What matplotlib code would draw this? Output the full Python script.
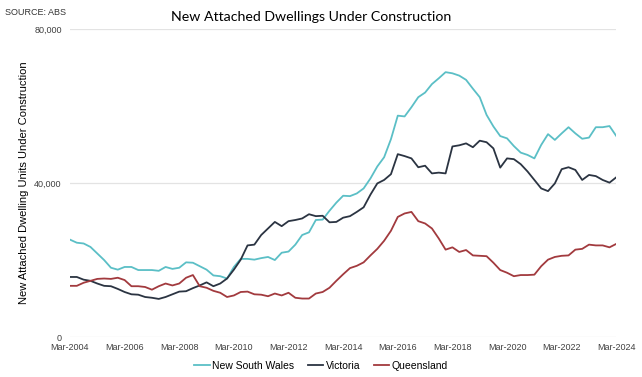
import matplotlib
matplotlib.use("Agg")
import matplotlib.pyplot as plt
import numpy as np

# quarterly, Mar-2004 .. Mar-2024
years = list(range(2004, 2025))
tick_labels = [f"Mar-{y}" for y in years[::2]]

nsw = [25.3, 24.5, 24.3, 23.4, 21.7, 20.0, 18.0, 17.5, 18.2, 18.2, 17.4, 17.4,
       17.4, 17.2, 18.2, 17.7, 18.0, 19.4, 19.3, 18.4, 17.5, 16.0, 15.8, 15.2,
       18.2, 20.3, 20.3, 20.1, 20.5, 20.8, 20.0, 21.9, 22.2, 24.0, 26.5, 27.2,
       30.4, 30.5, 32.8, 34.9, 36.7, 36.6, 37.3, 38.6, 41.2, 44.3, 46.7, 51.4,
       57.5, 57.3, 59.7, 62.3, 63.5, 65.7, 67.2, 68.8, 68.5, 67.9, 66.8, 64.5,
       62.3, 57.7, 54.7, 52.2, 51.6, 49.6, 47.9, 47.3, 46.4, 49.9, 52.7, 51.2,
       52.9, 54.5, 52.9, 51.5, 51.8, 54.5, 54.5, 54.8, 52.2]

vic = [15.6, 15.6, 14.9, 14.6, 13.9, 13.3, 13.2, 12.5, 11.7, 11.1, 11.0, 10.4,
       10.2, 9.9, 10.4, 11.1, 11.8, 11.9, 12.7, 13.4, 14.2, 13.2, 13.9, 15.2,
       17.5, 20.1, 23.8, 24.0, 26.5, 28.2, 29.9, 28.8, 30.1, 30.4, 30.8, 31.9,
       31.4, 31.5, 29.8, 29.9, 31.0, 31.4, 32.5, 33.7, 37.0, 39.9, 40.8, 42.3,
       47.5, 47.0, 46.4, 44.1, 44.5, 42.5, 42.7, 42.5, 49.5, 49.8, 50.3, 49.3,
       51.0, 50.6, 49.0, 44.0, 46.4, 46.2, 44.9, 43.0, 40.8, 38.6, 37.9, 39.9,
       43.6, 44.1, 43.4, 40.8, 42.1, 41.8, 40.8, 40.1, 41.5]

qld = [13.3, 13.3, 14.1, 14.6, 15.1, 15.2, 15.1, 15.4, 14.8, 13.2, 13.2, 13.0,
       12.3, 13.2, 13.9, 13.4, 13.9, 15.4, 16.1, 13.2, 12.8, 12.0, 11.5, 10.4,
       10.8, 11.7, 11.8, 11.1, 11.0, 10.6, 11.3, 10.8, 11.5, 10.2, 10.0, 10.0,
       11.3, 11.7, 12.8, 14.6, 16.3, 17.9, 18.5, 19.4, 21.2, 22.9, 25.0, 27.6,
       31.2, 32.1, 32.5, 30.1, 29.5, 28.2, 25.6, 22.7, 23.3, 22.1, 22.6, 21.2,
       21.1, 21.0, 19.3, 17.4, 16.7, 15.8, 16.1, 16.1, 16.2, 18.4, 20.1, 20.8,
       21.1, 21.2, 22.7, 22.9, 24.0, 23.8, 23.8, 23.3, 24.2]

x = np.arange(len(nsw))
fig = plt.figure(figsize=(6.42, 3.77), dpi=100)
ax = fig.add_axes([0.109, 0.106, 0.851, 0.817])

ax.plot(x, np.array(nsw) * 1000, color="#5bbfc6", lw=1.3, label="New South Wales")
ax.plot(x, np.array(vic) * 1000, color="#2b3442", lw=1.3, label="Victoria")
ax.plot(x, np.array(qld) * 1000, color="#a23a3e", lw=1.3, label="Queensland")

ax.set_xlim(0, len(nsw) - 1)
ax.set_ylim(0, 80000)
ax.set_yticks([0, 40000, 80000])
ax.set_yticklabels(["0", "40,000", "80,000"])
ax.set_xticks(x[::8])
ax.set_xticklabels(tick_labels)
for lab in ax.get_xticklabels() + ax.get_yticklabels():
    lab.set_fontfamily("Liberation Sans")
    lab.set_fontsize(6.5)
    lab.set_color("#404040")
ax.tick_params(axis="y", length=0, pad=6)
ax.tick_params(axis="x", length=0, pad=4)
ax.grid(axis="y", color="#e3e3e3", lw=0.9)
ax.set_axisbelow(True)
for s in ax.spines.values():
    s.set_visible(False)

ax.set_ylabel("New Attached Dwelling Units Under Construction", fontsize=8,
              family="Liberation Sans", labelpad=4)
fig.text(0.485, 0.955, "New Attached Dwellings Under Construction", ha="center",
         va="center", fontsize=10.2, family="Lato")
fig.text(0.008, 0.968, "SOURCE: ABS", fontsize=6.5, family="Liberation Sans",
         va="center", color="#333333")

fig.legend(loc="center", bbox_to_anchor=(0.5, 0.03), ncol=3, frameon=False,
           prop={"family": "Liberation Sans", "size": 7.5}, handlelength=1.5,
           handletextpad=0.2, columnspacing=1.3)

fig.savefig("out.png", dpi=100)
